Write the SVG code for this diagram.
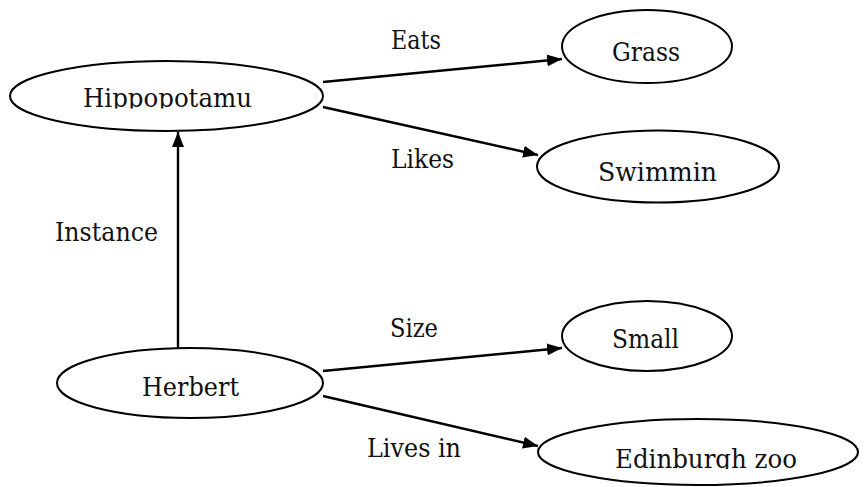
<svg xmlns="http://www.w3.org/2000/svg" width="864" height="487" viewBox="0 0 864 487">
<style>
.n{fill:#fff;stroke:#000;stroke-width:2}
.t{font-family:"DejaVu Serif","Liberation Serif",serif;font-size:26px;fill:#111}
.c{stroke:#000;stroke-width:2.4;fill:none;marker-end:url(#ah)}
</style>
<defs>
<marker id="ah" viewBox="0 0 15 12" refX="15" refY="6" markerWidth="15" markerHeight="12" markerUnits="userSpaceOnUse" orient="auto">
<path d="M0,0 L15,6 L0,12 Z" fill="#000"/>
</marker>
<clipPath id="clipH"><rect x="0" y="70" width="340" height="38.5"/></clipPath>
<clipPath id="clipE"><rect x="540" y="430" width="320" height="39"/></clipPath>
</defs>
<rect width="864" height="487" fill="#fff"/>
<g id="connectors">
<line class="c" x1="323" y1="82" x2="562" y2="59"/>
<line class="c" x1="323" y1="107" x2="538" y2="155"/>
<line class="c" x1="178" y1="348" x2="178" y2="132"/>
<line class="c" x1="323" y1="371" x2="562" y2="348"/>
<line class="c" x1="323" y1="396" x2="538" y2="446"/>
<text class="t" x="391" y="49" textLength="50" lengthAdjust="spacingAndGlyphs">Eats</text>
<text class="t" x="391" y="168" textLength="63" lengthAdjust="spacingAndGlyphs">Likes</text>
<text class="t" x="55" y="241" textLength="103" lengthAdjust="spacingAndGlyphs">Instance</text>
<text class="t" x="390" y="337" textLength="48" lengthAdjust="spacingAndGlyphs">Size</text>
<text class="t" x="367" y="457" textLength="94" lengthAdjust="spacingAndGlyphs">Lives in</text>
</g>
<g id="hippopotamus">
<ellipse class="n" cx="166.5" cy="96" rx="156.5" ry="35"/>
<text class="t" x="83" y="107" textLength="169" lengthAdjust="spacingAndGlyphs" clip-path="url(#clipH)">Hippopotamu</text>
</g>
<g id="grass">
<ellipse class="n" cx="647" cy="46.5" rx="85" ry="36.5"/>
<text class="t" x="612" y="61" textLength="68" lengthAdjust="spacingAndGlyphs">Grass</text>
</g>
<g id="swimming">
<ellipse class="n" cx="658" cy="166.5" rx="121" ry="36"/>
<text class="t" x="598" y="181" textLength="119" lengthAdjust="spacingAndGlyphs">Swimmin</text>
</g>
<g id="herbert">
<ellipse class="n" cx="190" cy="383" rx="133" ry="35"/>
<text class="t" x="142" y="396" textLength="97" lengthAdjust="spacingAndGlyphs">Herbert</text>
</g>
<g id="small">
<ellipse class="n" cx="647" cy="336" rx="85" ry="35"/>
<text class="t" x="612" y="348" textLength="67" lengthAdjust="spacingAndGlyphs">Small</text>
</g>
<g id="edinburgh">
<ellipse class="n" cx="698" cy="452" rx="160" ry="33"/>
<text class="t" x="615" y="468" textLength="182" lengthAdjust="spacingAndGlyphs" clip-path="url(#clipE)">Edinburgh zoo</text>
</g>
</svg>
